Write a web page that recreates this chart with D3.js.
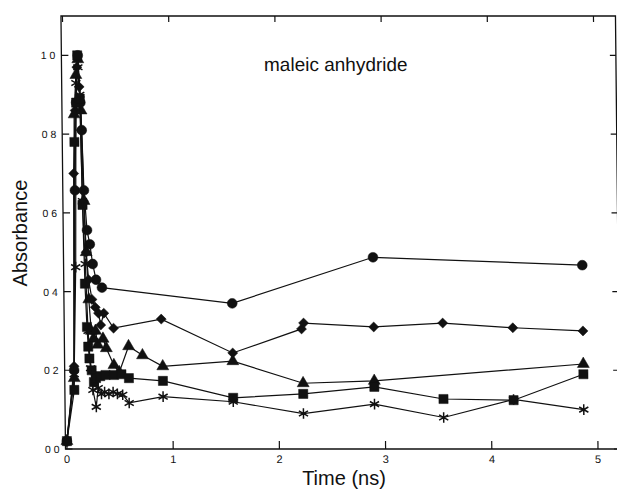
<!DOCTYPE html>
<html>
<head>
<meta charset="utf-8">
<script src="https://cdn.jsdelivr.net/npm/d3@7"></script>
<style>
  body { margin: 0; background: #fff; }
  text { font-family: "Liberation Sans", Arial, sans-serif; fill: #111; }
</style>
</head>
<body>
<div id="chart"></div>
<script>
var width = 617;
var height = 494;

// data (time in ns, absorbance normalised)
var circleTime = [0, 0.075, 0.10, 0.12, 0.14, 0.16, 0.17, 0.185, 0.21, 0.235, 0.26, 0.29, 0.345, 1.57, 2.9, 4.87];
var circleAbs  = [0.02, 0.20, 0.657, 0.88, 1.0, 0.88, 0.81, 0.657, 0.556, 0.52, 0.47, 0.43, 0.41, 0.37, 0.487, 0.467];

var diamondTime = [0, 0.075, 0.09, 0.11, 0.13, 0.15, 0.165, 0.18, 0.20, 0.22, 0.25, 0.28, 0.31, 0.33, 0.36, 0.45, 0.90, 1.57, 2.22, 2.24, 2.9, 3.55, 4.21, 4.87];
var diamondAbs  = [0.02, 0.21, 0.70, 0.86, 0.97, 0.92, 0.81, 0.63, 0.50, 0.43, 0.38, 0.36, 0.345, 0.315, 0.345, 0.307, 0.33, 0.244, 0.305, 0.32, 0.31, 0.32, 0.308, 0.30];

var triangleTime = [0, 0.075, 0.10, 0.12, 0.14, 0.165, 0.185, 0.20, 0.22, 0.24, 0.26, 0.28, 0.30, 0.35, 0.38, 0.45, 0.50, 0.59, 0.72, 0.91, 1.57, 2.23, 2.9, 4.87];
var triangleAbs  = [0.02, 0.18, 0.85, 0.95, 0.99, 0.86, 0.63, 0.50, 0.38, 0.30, 0.28, 0.30, 0.265, 0.28, 0.256, 0.213, 0.195, 0.261, 0.238, 0.21, 0.223, 0.167, 0.173, 0.216];

var squareTime = [0, 0.075, 0.10, 0.12, 0.135, 0.155, 0.17, 0.185, 0.20, 0.21, 0.22, 0.24, 0.26, 0.28, 0.32, 0.37, 0.45, 0.52, 0.59, 0.91, 1.57, 2.23, 2.9, 3.55, 4.21, 4.87];
var squareAbs  = [0.02, 0.15, 0.78, 0.88, 1.0, 0.89, 0.62, 0.42, 0.31, 0.26, 0.23, 0.20, 0.17, 0.18, 0.185, 0.188, 0.188, 0.19, 0.18, 0.173, 0.13, 0.14, 0.158, 0.127, 0.124, 0.19];

var starTime = [0, 0.075, 0.10, 0.12, 0.14, 0.155, 0.17, 0.19, 0.21, 0.23, 0.25, 0.28, 0.30, 0.33, 0.36, 0.40, 0.44, 0.48, 0.53, 0.59, 0.91, 1.57, 2.23, 2.9, 3.55, 4.21, 4.87];
var starAbs  = [0.02, 0.19, 0.462, 0.93, 0.97, 0.90, 0.63, 0.47, 0.30, 0.205, 0.15, 0.107, 0.155, 0.14, 0.145, 0.14, 0.145, 0.14, 0.138, 0.117, 0.133, 0.12, 0.09, 0.114, 0.08, 0.126, 0.10];

var xTicks = [0, 1, 2, 3, 4, 5];
var yTicks = [0, 0.2, 0.4, 0.6, 0.8, 1.0];
var yTickLabels = ["0 0", "0 2", "0 4", "0 6", "0 8", "1 0"];

var series = [
  {time: circleTime, abs: circleAbs, shape: "circle"},
  {time: diamondTime, abs: diamondAbs, shape: "diamond"},
  {time: triangleTime, abs: triangleAbs, shape: "triangle"},
  {time: squareTime, abs: squareAbs, shape: "square"},
  {time: starTime, abs: starAbs, shape: "star"}
];

// frame in pixels (measured at the bottom-left of the scanned plot)
var frameLeft = 65.5, frameRight = 620, frameTop = 16, frameBottom = 449;

var x = d3.scaleLinear().domain([0, 5]).range([67, 598]);
var y = d3.scaleLinear().domain([0, 1.1]).range([frameBottom, frameTop]);

var svg = d3.select("#chart")
  .append("svg")
  .attr("width", width)
  .attr("height", height);

svg.append("rect").attr("width", width).attr("height", height).attr("fill", "#fff");

// the scan is slightly sheared, so lean the plot a bit
var g = svg.append("g")
  .attr("transform", "translate(0," + frameBottom + ") skewX(0.6) translate(0," + (-frameBottom) + ")");

// frame
g.append("rect")
  .attr("x", frameLeft).attr("y", frameTop)
  .attr("width", frameRight - frameLeft).attr("height", frameBottom - frameTop)
  .attr("fill", "none").attr("stroke", "#111").attr("stroke-width", 1.3);

// ticks, all pointing inwards
xTicks.forEach(function (t) {
  g.append("line").attr("x1", x(t)).attr("x2", x(t)).attr("y1", frameBottom).attr("y2", frameBottom - 8)
    .attr("stroke", "#111").attr("stroke-width", 1.2);
  g.append("line").attr("x1", x(t)).attr("x2", x(t)).attr("y1", frameTop).attr("y2", frameTop + 6)
    .attr("stroke", "#111").attr("stroke-width", 1.2);
  g.append("text").attr("x", x(t)).attr("y", frameBottom + 14)
    .attr("text-anchor", "middle").attr("font-size", 11).text(t);
});

yTicks.forEach(function (v, i) {
  g.append("line").attr("x1", frameLeft).attr("x2", frameLeft + 7).attr("y1", y(v)).attr("y2", y(v))
    .attr("stroke", "#111").attr("stroke-width", 1.2);
  g.append("line").attr("x1", frameRight).attr("x2", frameRight - 6).attr("y1", y(v)).attr("y2", y(v))
    .attr("stroke", "#111").attr("stroke-width", 1.2);
  g.append("text").attr("x", frameLeft - 6).attr("y", y(v) + 4)
    .attr("text-anchor", "end").attr("font-size", 10.5).text(yTickLabels[i]);
});

var line = d3.line()
  .x(function (d) { return x(d[0]); })
  .y(function (d) { return y(d[1]); });

var symbols = {
  circle: d3.symbol().type(d3.symbolCircle).size(76),
  square: d3.symbol().type(d3.symbolSquare).size(84),
  triangle: d3.symbol().type(d3.symbolTriangle).size(62),
  diamond: d3.symbol().type(d3.symbolSquare).size(50),
  star: d3.symbol().type(d3.symbolAsterisk).size(78)
};

series.forEach(function (s) {
  var pts = s.time.map(function (t, i) { return [t, s.abs[i]]; });

  g.append("path")
    .datum(pts)
    .attr("d", line)
    .attr("fill", "none")
    .attr("stroke", "#111")
    .attr("stroke-width", 1.2);

  g.selectAll(null)
    .data(pts)
    .enter()
    .append("path")
    .attr("d", symbols[s.shape])
    .attr("transform", function (d) {
      return "translate(" + x(d[0]) + "," + y(d[1]) + ")" + (s.shape === "diamond" ? " rotate(45)" : "");
    })
    .attr("fill", s.shape === "star" ? "none" : "#111")
    .attr("stroke", "#111")
    .attr("stroke-width", s.shape === "star" ? 1.5 : 0.5);
});

// labels
g.append("text")
  .attr("x", 268).attr("y", 71)
  .attr("font-size", 19)
  .text("maleic anhydride");

svg.append("text")
  .attr("x", 344).attr("y", 485)
  .attr("text-anchor", "middle")
  .attr("font-size", 20)
  .text("Time (ns)");

svg.append("text")
  .attr("transform", "translate(27,233) rotate(-90)")
  .attr("text-anchor", "middle")
  .attr("font-size", 20)
  .text("Absorbance");
</script>
</body>
</html>
